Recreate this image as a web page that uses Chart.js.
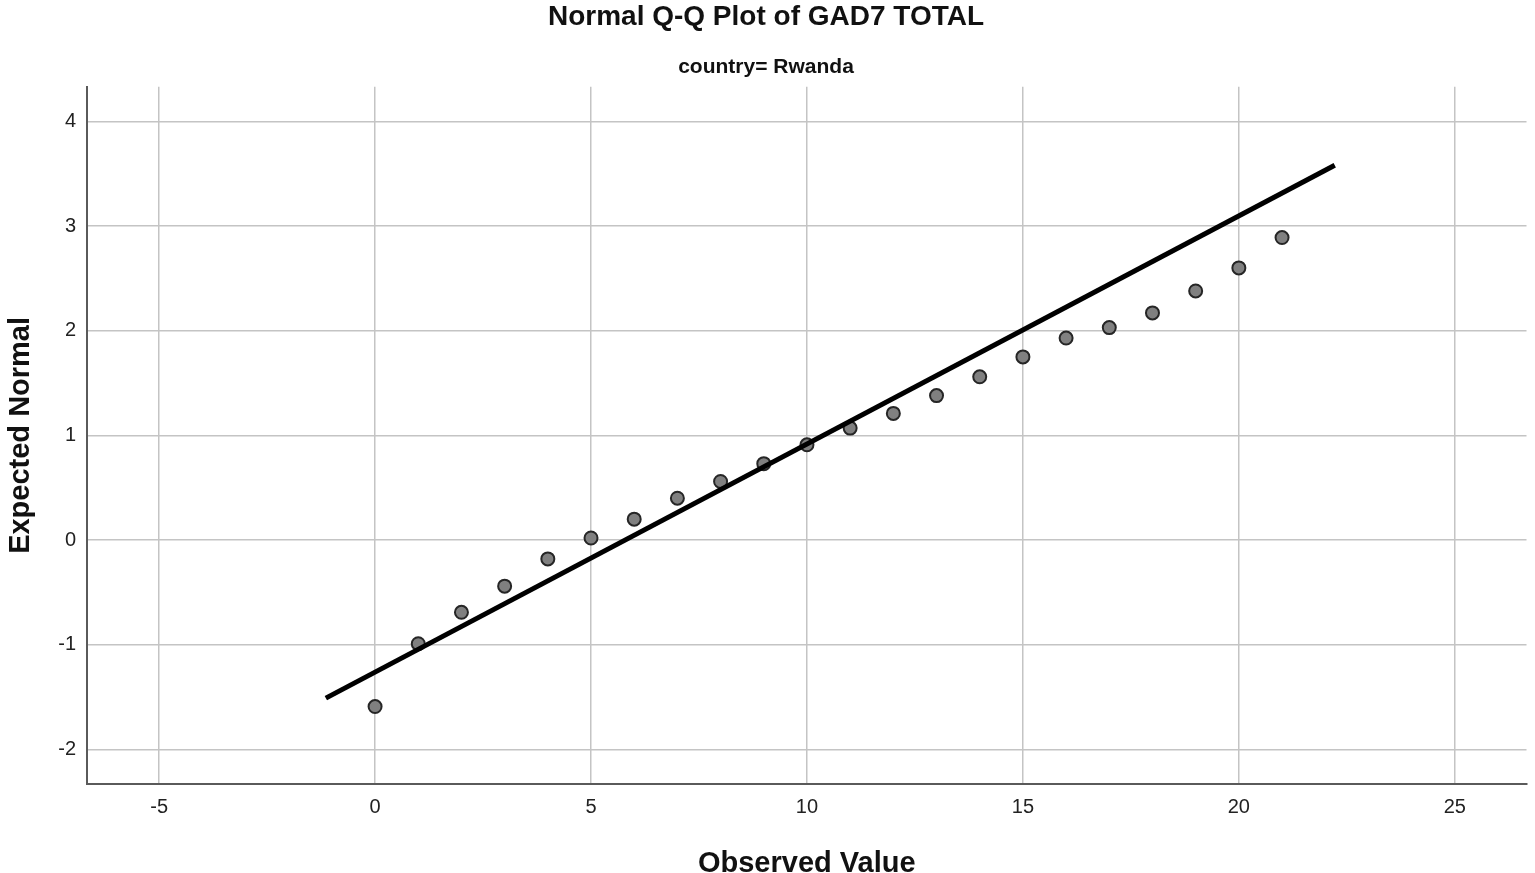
<!DOCTYPE html>
<html>
<head>
<meta charset="utf-8">
<script src="https://cdn.jsdelivr.net/npm/chart.js@4.4.1/dist/chart.umd.min.js"></script>
<style>
  html, body { margin: 0; padding: 0; background: #fff; }
  canvas { display: block; }
</style>
</head>
<body>
<canvas id="qqChart" width="1535" height="873"></canvas>
<script>
// observed GAD7 totals and the expected normal values
var observed = [0, 1, 2, 3, 4, 5, 6, 7, 8, 9, 10, 11, 12, 13, 14, 15, 16, 17, 18, 19, 20, 21];
var expectedNormal = [-1.59, -0.99, -0.69, -0.44, -0.18, 0.02, 0.20, 0.40, 0.56, 0.73, 0.91,
                      1.07, 1.21, 1.38, 1.56, 1.75, 1.93, 2.03, 2.17, 2.38, 2.60, 2.89];
// reference line end points
var lineX = [-1.14, 22.22];
var lineY = [-1.51, 3.58];
// tick labels
var xTicks = [-5, 0, 5, 10, 15, 20, 25];
var yTicks = [-2, -1, 0, 1, 2, 3, 4];

Chart.defaults.font.family = "'Liberation Sans', Arial, sans-serif";
Chart.defaults.color = '#1a1a1a';

window.onload = function () {
  var ctx = document.getElementById('qqChart');
  new Chart(ctx, {
    data: {
      datasets: [{
        type: 'line',
        data: lineX.map(function (x, i) { return { x: x, y: lineY[i] }; }),
        borderColor: '#000',
        borderWidth: 5,
        pointRadius: 0,
        order: 0
      }, {
        type: 'scatter',
        data: observed.map(function (x, i) { return { x: x, y: expectedNormal[i] }; }),
        backgroundColor: '#808080',
        borderColor: '#262626',
        borderWidth: 2,
        pointRadius: 6.5,
        order: 1
      }]
    },
    options: {
      responsive: false,
      animation: false,
      devicePixelRatio: 1,
      layout: { padding: { left: 0, right: 3, top: 0, bottom: 0 } },
      plugins: {
        legend: { display: false },
        tooltip: { enabled: false },
        title: {
          display: true,
          text: 'Normal Q-Q Plot of GAD7 TOTAL',
          color: '#111',
          font: { size: 28, weight: 'bold' },
          padding: { top: 0, bottom: 21 }
        },
        subtitle: {
          display: true,
          text: 'country= Rwanda',
          color: '#111',
          font: { size: 21, weight: 'bold' },
          padding: { top: 0, bottom: 7 }
        }
      },
      scales: {
        x: {
          type: 'linear',
          position: 'bottom',
          min: -6.67,
          max: 26.66,
          afterBuildTicks: function (s) { s.ticks = xTicks.map(function (v) { return { value: v }; }); },
          afterFit: function (s) { s.height = 89; s.paddingLeft = 0; s.paddingRight = 0; },
          grid: { color: '#c4c4c4', lineWidth: 1.5, drawTicks: false },
          border: { color: '#5a5a5a', width: 2 },
          ticks: { color: '#222', font: { size: 20 }, padding: 11 },
          title: {
            display: true,
            text: 'Observed Value',
            color: '#111',
            font: { size: 29, weight: 'bold', lineHeight: 1 },
            padding: { top: 0, bottom: -5 }
          }
        },
        y: {
          type: 'linear',
          min: -2.33,
          max: 4.33,
          afterBuildTicks: function (s) { s.ticks = yTicks.map(function (v) { return { value: v }; }); },
          afterFit: function (s) { s.width = 87; s.paddingTop = 0; s.paddingBottom = 0; },
          grid: { color: '#c4c4c4', lineWidth: 1.5, drawTicks: false },
          border: { color: '#5a5a5a', width: 2 },
          ticks: { color: '#222', font: { size: 20 }, padding: 11 },
          title: {
            display: true,
            text: 'Expected Normal',
            color: '#111',
            font: { size: 29, weight: 'bold', lineHeight: 1 },
            padding: { top: 6, bottom: 0 }
          }
        }
      }
    }
  });
};
</script>
</body>
</html>
